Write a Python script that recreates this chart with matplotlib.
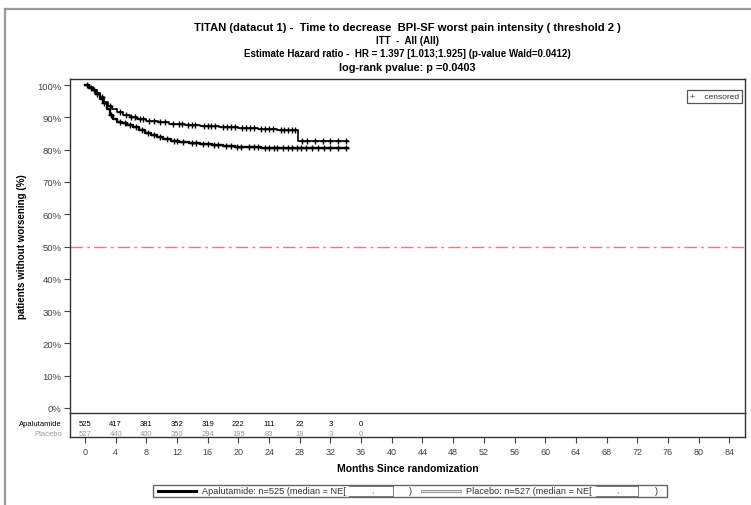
import numpy as np
import matplotlib
matplotlib.use("Agg")
import matplotlib.pyplot as plt
from matplotlib.lines import Line2D
from matplotlib.patches import Rectangle

plt.rcParams['font.family'] = ['Liberation Sans', 'DejaVu Sans']

W, H = 751, 506

# Kaplan-Meier steps (months, % without worsening)
apa_t = [0, 0.5, 1.0, 1.4, 1.9, 2.3, 2.8, 3.2, 3.7, 4.2, 4.8, 5.5, 6.2, 7.0, 7.8,
         8.6, 9.4, 10.2, 11.2, 12.3, 13.5, 15.0, 16.5, 18.0, 19.5, 21.0, 23.0, 25.5]
apa_s = [100, 99.2, 98.3, 97.2, 95.8, 94.3, 92.5, 90.8, 89.5, 88.7, 88.2, 87.6, 86.9,
         86.0, 85.2, 84.4, 83.8, 83.3, 82.8, 82.4, 82.0, 81.7, 81.4, 81.1, 80.9, 80.7,
         80.5, 80.4]
apa_end = 34.3
apa_cens = [0.8, 1.6, 2.5, 3.4, 4.5, 5.2, 5.9, 6.6, 7.4, 8.2, 9.0, 9.8, 10.7, 11.6,
            12.0, 12.8, 13.9, 14.5, 15.4, 16.0, 16.8, 17.4, 18.4, 19.0, 19.8, 20.4,
            21.4, 22.0, 22.6, 23.4, 24.0, 24.6, 25.0, 25.8, 26.4, 27.0, 27.6, 28.2,
            28.8, 29.6, 30.4, 31.2, 32.0, 33.0, 34.0]

pla_t = [0, 0.5, 1.0, 1.5, 2.0, 2.5, 3.0, 3.5, 4.2, 5.0, 5.8, 6.8, 8.0, 9.5, 11.0,
         13.0, 15.0, 17.5, 20.0, 22.5, 25.0, 27.8]
pla_s = [100, 99.3, 98.5, 97.4, 96.2, 94.8, 93.6, 92.6, 91.6, 90.8, 90.1, 89.5, 89.0,
         88.5, 88.0, 87.6, 87.3, 87.0, 86.7, 86.4, 86.1, 82.8]
pla_end = 34.3
pla_cens = [0.3, 1.2, 2.2, 3.3, 4.5, 5.3, 6.0, 6.5, 7.2, 7.6, 8.4, 9.0, 9.8, 10.4,
            11.5, 12.2, 12.6, 13.4, 14.0, 14.4, 15.5, 16.0, 16.4, 17.0, 18.0, 18.5,
            19.0, 19.5, 20.5, 21.0, 21.5, 22.0, 23.0, 23.5, 24.0, 24.5, 25.5, 26.0,
            26.5, 27.0, 27.4, 28.3, 29.0, 30.0, 31.0, 32.0, 33.0, 34.0]

# numbers at risk
risk_times = [0, 4, 8, 12, 16, 20, 24, 28, 32, 36]
apa_risk = [525, 417, 381, 352, 319, 222, 111, 22, 3, 0]
pla_risk = [527, 440, 400, 350, 294, 195, 83, 18, 3, 0]

xticks = list(range(0, 88, 4))
yticks = list(range(0, 101, 10))

title_lines = [
    "TITAN (datacut 1) -  Time to decrease  BPI-SF worst pain intensity ( threshold 2 )",
    "ITT  -  All (All)",
    "Estimate Hazard ratio -  HR = 1.397 [1.013;1.925] (p-value Wald=0.0412)",
    "log-rank pvalue: p =0.0403",
]


def fx(px):
    return px / W


def fy(py):
    return 1 - py / H


fig = plt.figure(figsize=(W / 100, H / 100), dpi=100)

# main KM axes and risk table axes
ax = fig.add_axes([fx(70), fy(414), fx(745) - fx(70), fy(80) - fy(414)])
axr = fig.add_axes([fx(70), fy(438), fx(745) - fx(70), fy(414) - fy(438)], sharex=ax)
axr.patch.set_visible(False)

ax.set_xlim(-1.96, 86.05)
ax.set_ylim(-1.55, 101.86)

for t, s, end, cens, lw in [(apa_t, apa_s, apa_end, apa_cens, 1.7),
                            (pla_t, pla_s, pla_end, pla_cens, 1.2)]:
    tt = np.array(t + [end])
    ss = np.array(s + [s[-1]])
    ax.step(tt, ss, where='post', color='black', lw=lw)
    c = np.array(cens)
    idx = np.searchsorted(np.array(t), c, side='right') - 1
    ax.plot(c, np.array(s)[idx], '+', color='black', ms=4.5, mew=1.0)

ax.axhline(50, color='#ee7b7b', lw=1.0, ls=(0, (9, 3, 2, 3)))

ax.set_yticks(yticks)
ax.set_yticklabels([f"{v}%" for v in yticks], fontsize=6.8, color='#444444')
ax.tick_params(axis='y', length=4, width=0.8, color='#444444', pad=2)
ax.tick_params(axis='x', bottom=False, labelbottom=False)
for sp in ax.spines.values():
    sp.set_linewidth(1.0)
    sp.set_color('#333333')
ax.set_ylabel("patients without worsening (%)", fontsize=7, fontweight='bold')
ax.yaxis.set_label_coords(-(70 - 27) / 675, 0.5)

ax.text(0.991, 0.958, "+    censored", transform=ax.transAxes, ha='right', va='top',
        fontsize=6, color='#333333',
        bbox=dict(boxstyle='square,pad=0.35', fc='white', ec='#555555', lw=0.9))

# risk table
axr.set_ylim(0, 1)
axr.set_yticks([])
axr.spines['top'].set_visible(False)
for sp in ['left', 'right', 'bottom']:
    axr.spines[sp].set_linewidth(1.0)
    axr.spines[sp].set_color('#333333')
for x, a, p in zip(risk_times, apa_risk, pla_risk):
    axr.text(x, 0.58, str(a), ha='center', va='center', fontsize=5.5, color='black')
    axr.text(x, 0.15, str(p), ha='center', va='center', fontsize=5.5, color='#9a9a9a')
axr.text(-0.012, 0.58, "Apalutamide", transform=axr.transAxes, ha='right', va='center',
         fontsize=5.5, color='black')
axr.text(-0.012, 0.15, "Placebo", transform=axr.transAxes, ha='right', va='center',
         fontsize=5.5, color='#9a9a9a')
axr.set_xticks(xticks)
axr.set_xticklabels([str(v) for v in xticks], fontsize=6.5, color='#444444')
axr.tick_params(axis='x', length=4, width=0.8, color='#444444', pad=3)
axr.set_xlabel("Months Since randomization", fontsize=7.5, fontweight='bold', labelpad=5)

# titles
ys = [28, 41, 54, 68]
sizes = [8.1, 7, 7, 7.8]
for line, y, sz in zip(title_lines, ys, sizes):
    fig.text(fx(407), fy(y), line, ha='center', va='center', fontsize=sz, fontweight='bold')

# outer frame
fig.add_artist(Line2D([fx(5), fx(751)], [fy(10), fy(10)], color='#9a9a9a', lw=1.6))
fig.add_artist(Line2D([fx(5), fx(5)], [fy(10), fy(506)], color='#9a9a9a', lw=1.6))

# bottom legend
fig.add_artist(Rectangle((fx(153), fy(498)), fx(667) - fx(153), fy(486) - fy(498),
                         fill=False, ec='#666666', lw=1.0))
fig.add_artist(Line2D([fx(158), fx(196)], [fy(492), fy(492)], color='black', lw=2.2))
fig.text(fx(202), fy(492), "Apalutamide: n=525 (median = NE[", fontsize=6.6,
         color='#333333', va='center')
fig.add_artist(Line2D([fx(422), fx(460)], [fy(492), fy(492)], color='#8a8a8a', lw=2.0))
fig.add_artist(Line2D([fx(422), fx(460)], [fy(492), fy(492)], color='white', lw=0.6))
fig.text(fx(466), fy(492), "Placebo: n=527 (median = NE[", fontsize=6.6,
         color='#333333', va='center')
for x0, xc, xb, xe in [(349, 372, 393, 410), (596, 617, 638, 656)]:
    fig.add_artist(Line2D([fx(x0), fx(xb)], [fy(487), fy(487)], color='#777777', lw=0.7))
    fig.add_artist(Line2D([fx(x0), fx(xb)], [fy(497), fy(497)], color='#777777', lw=0.7))
    fig.add_artist(Line2D([fx(xb), fx(xb)], [fy(487), fy(497)], color='#777777', lw=0.7))
    fig.text(fx(xc), fy(492), ",", fontsize=6, color='#555555', va='center', ha='center')
    fig.text(fx(xe), fy(492), ")", fontsize=6.6, color='#333333', va='center', ha='center')

fig.savefig("out.png", dpi=100)
